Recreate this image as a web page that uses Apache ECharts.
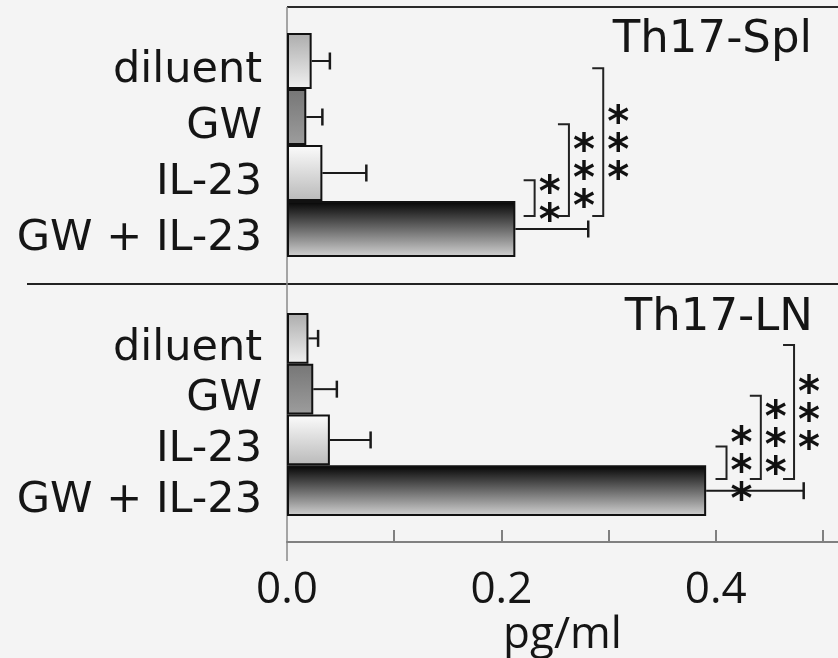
<!DOCTYPE html>
<html lang="en">

<head>
  <meta charset="UTF-8">
  <title>Th17 pg/ml</title>
  <script src="https://cdn.jsdelivr.net/npm/echarts@6/dist/echarts.min.js"></script>
  <style>
    html, body { margin: 0; padding: 0; background: #f4f4f4; }
  </style>
</head>

<body>

  <div id="main" style="width: 838px;height:658px;"></div>

  <script>
    // data
    var categories = ['diluent', 'GW', 'IL-23', 'GW + IL-23']
    var panelTitles = ['Th17-Spl', 'Th17-LN']

    var splMean = [0.023, 0.018, 0.033, 0.213]
    var splErr = [0.017, 0.015, 0.041, 0.068]
    var lnMean = [0.020, 0.0245, 0.040, 0.391]
    var lnErr = [0.009, 0.022, 0.038, 0.091]

    // [x of bracket, from category, to category, stars]
    var splSig = [[0.231, 2, 3, '**'], [0.263, 1, 3, '***'], [0.295, 0, 3, '***']]
    var lnSig = [[0.410, 2, 3, '***'], [0.442, 1, 3, '***'], [0.473, 0, 3, '***']]

    var xTicks = [0.1, 0.2, 0.3, 0.4, 0.5]
    var xLabels = [0, 0.2, 0.4]

    // bar fills, top -> bottom
    var fills = [['#acacac', '#f1f1f1'], ['#767676', '#9d9d9d'], ['#fcfcfc', '#b9b9b9'], ['#030303', '#d3d3d3']]

    var myChart = echarts.init(document.getElementById('main'))

    function barData(means) {
      return means.map(function (v, i) {
        return {
          value: v,
          itemStyle: {
            color: new echarts.graphic.LinearGradient(0, 0, 0, 1, [
              { offset: 0, color: fills[i][0] },
              { offset: 1, color: fills[i][1] }
            ])
          }
        }
      })
    }

    function errData(means, errs) {
      return means.map(function (v, i) { return [v, errs[i], i] })
    }

    function renderErr(params, api) {
      var a = api.coord([api.value(0), api.value(2)])
      var b = api.coord([api.value(0) + api.value(1), api.value(2)])
      return {
        type: 'group',
        children: [
          { type: 'line', shape: { x1: a[0], y1: a[1], x2: b[0], y2: b[1] }, style: { stroke: '#1a1a1a', lineWidth: 2 } },
          { type: 'line', shape: { x1: b[0], y1: b[1] - 8.5, x2: b[0], y2: b[1] + 8.5 }, style: { stroke: '#1a1a1a', lineWidth: 2.5 } }
        ]
      }
    }

    function renderSig(params, api) {
      var band = api.size([0, 1])[1]
      var x = api.coord([api.value(0), 0])[0]
      var top = api.coord([api.value(0), api.value(1)])[1] + band * 0.13
      var bot = api.coord([api.value(0), api.value(2)])[1] - band * 0.23
      var stars = String(api.value(3))
      var mid = (top + bot) / 2
      var children = [{
        type: 'polyline',
        shape: { points: [[x - 11, top], [x, top], [x, bot], [x - 11, bot]] },
        style: { stroke: '#222', lineWidth: 2, fill: null }
      }]
      for (var i = 0; i < stars.length; i++) {
        children.push({
          type: 'text',
          x: x + 15,
          y: mid + (i - (stars.length - 1) / 2) * 28 + 11,
          style: { text: '*', font: 'bold 42px "DejaVu Sans"', align: 'center', verticalAlign: 'middle', fill: '#111' }
        })
      }
      return { type: 'group', children: children }
    }

    var catAxis = function (idx) {
      return {
        type: 'category', gridIndex: idx, data: categories, inverse: true,
        axisLine: { show: false }, axisTick: { show: false },
        axisLabel: {
          interval: 0, fontFamily: 'DejaVu Sans', fontSize: 43, color: '#151515',
          margin: 25, verticalAlign: 'top', lineHeight: 20
        }
      }
    }

    var titleStyle = { fontFamily: 'DejaVu Sans', fontSize: 45, fontWeight: 'normal', color: '#151515' }

    myChart.setOption({
      backgroundColor: '#f4f4f4',
      animation: false,
      title: [
        { text: panelTitles[0], right: 21, top: 13, textStyle: titleStyle },
        { text: panelTitles[1], right: 20, top: 291, textStyle: titleStyle }
      ],
      grid: [
        { left: 287, right: 0, top: 33, height: 224 },
        { left: 287, right: 0, top: 313, height: 222 }
      ],
      xAxis: [
        { type: 'value', gridIndex: 0, min: 0, max: 0.514, show: false },
        {
          type: 'value', gridIndex: 1, min: 0, max: 0.514, offset: 26,
          name: 'pg/ml', nameLocation: 'middle', nameGap: 68,
          nameTextStyle: { fontFamily: 'Open Sans', fontSize: 44, color: '#151515' },
          splitLine: { show: false },
          axisLine: { show: true, lineStyle: { color: '#808080', width: 2 } },
          axisTick: { show: true, inside: true, length: 12, customValues: xTicks, lineStyle: { color: '#808080', width: 2 } },
          axisLabel: {
            customValues: xLabels, margin: 26, fontFamily: 'Open Sans', fontSize: 44, color: '#151515',
            formatter: function (v) { return v.toFixed(1) }
          }
        }
      ],
      yAxis: [catAxis(0), catAxis(1)],
      series: [
        {
          type: 'bar', xAxisIndex: 0, yAxisIndex: 0, barWidth: '100%', data: barData(splMean),
          itemStyle: { borderColor: '#111', borderWidth: 2 }
        },
        {
          type: 'bar', xAxisIndex: 1, yAxisIndex: 1, barWidth: '100%', data: barData(lnMean),
          itemStyle: { borderColor: '#111', borderWidth: 2 }
        },
        { type: 'custom', xAxisIndex: 0, yAxisIndex: 0, data: errData(splMean, splErr), renderItem: renderErr, z: 3 },
        { type: 'custom', xAxisIndex: 1, yAxisIndex: 1, data: errData(lnMean, lnErr), renderItem: renderErr, z: 3 },
        { type: 'custom', xAxisIndex: 0, yAxisIndex: 0, data: splSig, renderItem: renderSig, z: 4 },
        { type: 'custom', xAxisIndex: 1, yAxisIndex: 1, data: lnSig, renderItem: renderSig, z: 4 }
      ],
      graphic: [
        { type: 'line', shape: { x1: 287, y1: 7, x2: 838, y2: 7 }, style: { stroke: '#2a2a2a', lineWidth: 2 } },
        { type: 'line', shape: { x1: 27, y1: 284, x2: 838, y2: 284 }, style: { stroke: '#222', lineWidth: 2 } },
        { type: 'line', shape: { x1: 287, y1: 7, x2: 287, y2: 561 }, style: { stroke: '#8a8a8a', lineWidth: 1.5 } }
      ]
    })
  </script>

</body>

</html>
